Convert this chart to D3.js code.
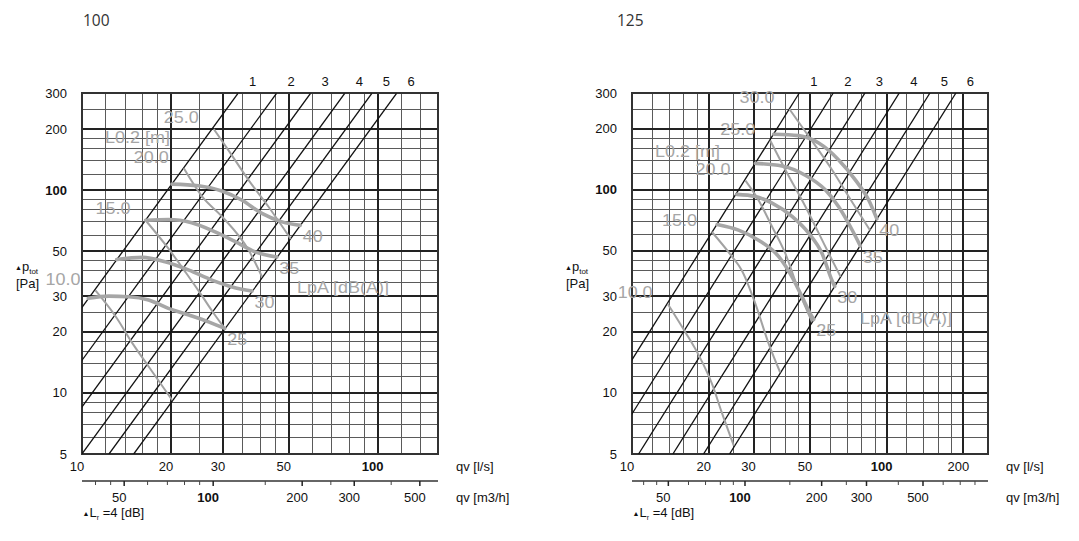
<!DOCTYPE html>
<html><head><meta charset="utf-8">
<script src="https://cdn.jsdelivr.net/npm/d3@7"></script>
<style>
body{margin:0;background:#fff;}
svg{display:block;font-family:"Liberation Sans",Arial,sans-serif;}
</style></head><body>
<svg id="chart" width="1079" height="541"></svg>
<script>
// ---------------- DATA ----------------
const panelTitles = ["100", "125"];
const yTickValues = [5, 10, 20, 30, 50, 100, 200, 300];
const yMinorValues = [6, 7, 8, 9, 12, 14, 16, 18, 25, 35, 40, 45, 60, 70, 80, 90, 120, 140, 160, 180, 250];
const xTickValues100 = [10, 20, 30, 50, 100];
const xMinorValues100 = [12, 14, 16, 18, 25, 35, 40, 45, 60, 70, 80, 90, 120, 140];
const xTickValues125 = [10, 20, 30, 50, 100, 200];
const xMinorValues125 = [12, 14, 16, 18, 25, 35, 40, 45, 60, 70, 80, 90, 120, 140, 160, 180];
const m3hTickValues = [50, 100, 200, 300, 500];
const m3hMinor100 = [40, 45, 60, 70, 80, 90, 150, 250, 400];
const m3hMinor125 = [40, 45, 60, 70, 80, 90, 150, 250, 400, 600, 700, 800];
const damperLabels = ["1", "2", "3", "4", "5", "6"];
// flow [l/s] at which each damper-position line reaches 300 Pa (lines follow dp ~ qv^2)
const damperQv300_100 = [33.7, 45.5, 59.3, 77.4, 95.6, 115.9];
const damperQv300_125 = [45.4, 61.7, 82.2, 112.1, 147.9, 187.1];

// throw length L0.2 [m] lines: [qv l/s, dp Pa]
const throwLabels100 = ["10.0", "15.0", "20.0", "25.0"];
const throw100_10 = [[11.1, 32], [13.0, 23.8], [14.8, 17.6], [16.8, 13.5], [20.2, 9.2]];
const throw100_15 = [[16.4, 71], [19.5, 52], [22.5, 39], [25.5, 30], [28, 24.5], [30.4, 20.8]];
const throw100_20 = [[22.1, 128], [25.5, 92.8], [29.8, 73.9], [36.6, 50.6], [40.6, 37.5]];
const throw100_25 = [[27.9, 200], [31.3, 157], [36.6, 112], [42.8, 82.5], [50.8, 57.5]];

const throwLabels125 = ["10.0", "15.0", "20.0", "25.0", "30.0"];
const throw125_10 = [[13.8, 27.5], [16.2, 19.9], [18.3, 15.3], [20.6, 11.1], [22.6, 7.9], [25.1, 5.5]];
const throw125_15 = [[20.6, 62], [24.7, 46.9], [27, 40.1], [30.5, 27.5], [34.4, 17.5], [38.2, 12.6]];
const throw125_20 = [[27.9, 111], [31.4, 89], [35.5, 65.8], [40, 48.6], [45.1, 32], [50.9, 22.4]];
const throw125_25 = [[34.9, 175], [40, 125.6], [47.9, 83], [54.1, 61.2], [61, 45.2], [66, 37.3]];
const throw125_30 = [[41.5, 250], [49.4, 183.6], [61, 125.6], [70.9, 92.8], [86, 63.3]];

// sound level LpA [dB(A)] curves
const lpaLabels = ["25", "30", "35", "40"];
const lpa100_25 = [[10.5, 29.3], [12.3, 30], [14.4, 29.8], [16.8, 28.7], [19.6, 26.1], [23, 24.2], [26.8, 22.4], [30.4, 20.8]];
const lpa100_30 = [[13.1, 45.5], [16, 46.6], [19.1, 44.3], [23, 40.3], [27.5, 36], [32.2, 33.3], [37.6, 31.8]];
const lpa100_35 = [[16.4, 71], [19.6, 71.6], [23.5, 69], [28.2, 62.2], [33, 55.7], [38.5, 49.6], [45.6, 46.8]];
const lpa100_40 = [[20.15, 107], [24.8, 105], [29.7, 99], [34.8, 89.1], [40.6, 76.7], [47.5, 69.7], [54.7, 67]];

const lpa125_25 = [[21.6, 67.5], [26.2, 63.3], [31.4, 56.5], [37.7, 46.9], [42.5, 37.3], [46.5, 29.8], [50.1, 24.6], [51.7, 23.0]];
const lpa125_30 = [[25.8, 95], [30.5, 92.8], [35.5, 86], [42.5, 74], [49.4, 61.2], [55.7, 48.7], [61, 35.8], [62.5, 33.5]];
const lpa125_35 = [[30.5, 135], [38.8, 131], [47.9, 118], [57.4, 100], [64.8, 82.5], [73.1, 63.6], [78.8, 53]];
const lpa125_40 = [[36, 188], [45.1, 185], [54.1, 170], [64.8, 140.4], [75.3, 112], [85, 89.1], [91.5, 72]];

const M3H_PER_LS = 3.6;

// ---------------- LAYOUT ----------------
const panels = [
  { title: panelTitles[0], titleX: 83, left: 82, right: 438, top: 93.3, bottom: 454, xDomain: [10, 160],
    xTicks: xTickValues100, xMinor: xMinorValues100, m3hMinor: m3hMinor100, damper: damperQv300_100,
    throws: [throw100_10, throw100_15, throw100_20, throw100_25], throwLabels: throwLabels100,
    lpa: [lpa100_25, lpa100_30, lpa100_35, lpa100_40],
    l02Pos: [137.5, 137.5], lpaPos: [343, 287.5] },
  { title: panelTitles[1], titleX: 617, left: 632, right: 988, top: 93, bottom: 454, xDomain: [10, 250],
    xTicks: xTickValues125, xMinor: xMinorValues125, m3hMinor: m3hMinor125, damper: damperQv300_125,
    throws: [throw125_10, throw125_15, throw125_20, throw125_25, throw125_30], throwLabels: throwLabels125,
    lpa: [lpa125_25, lpa125_30, lpa125_35, lpa125_40],
    l02Pos: [687.5, 151.5], lpaPos: [906, 318.5] }
];

const svg = d3.select("#chart");
const GRAY_TXT = "#a6a6a6";

function grayLabel(g, cx, cy, txt) {
  g.append("text").attr("transform", `translate(${cx},${cy}) scale(1.09,1)`)
    .attr("text-anchor", "middle").attr("dominant-baseline", "central")
    .attr("font-size", 16.5).attr("fill", GRAY_TXT).text(txt);
}

panels.forEach((P, pi) => {
  const x = d3.scaleLog().domain(P.xDomain).range([P.left, P.right]);
  const y = d3.scaleLog().domain([5, 300]).range([P.bottom, P.top]);
  const g = svg.append("g");
  const clipId = "clip" + pi;
  g.append("clipPath").attr("id", clipId).append("rect")
    .attr("x", P.left).attr("y", P.top).attr("width", P.right - P.left).attr("height", P.bottom - P.top);

  // title
  g.append("text").attr("x", P.titleX).attr("y", 26).attr("font-size", 15.5)
    .attr("font-family", "'Open Sans', sans-serif").attr("fill", "#333").text(P.title);

  // minor grid
  const grid = g.append("g").attr("shape-rendering", "crispEdges");
  grid.selectAll(".vm").data(P.xMinor).join("line")
    .attr("x1", d => x(d)).attr("x2", d => x(d)).attr("y1", P.top).attr("y2", P.bottom)
    .attr("stroke", "#5a5a5a").attr("stroke-width", 1);
  grid.selectAll(".hm").data(yMinorValues).join("line")
    .attr("y1", d => y(d)).attr("y2", d => y(d)).attr("x1", P.left).attr("x2", P.right)
    .attr("stroke", "#5a5a5a").attr("stroke-width", 1);
  // major grid
  grid.selectAll(".vM").data(P.xTicks).join("line")
    .attr("x1", d => x(d)).attr("x2", d => x(d)).attr("y1", P.top).attr("y2", P.bottom)
    .attr("stroke", "#222").attr("stroke-width", 2);
  grid.selectAll(".hM").data(yTickValues).join("line")
    .attr("y1", d => y(d)).attr("y2", d => y(d)).attr("x1", P.left).attr("x2", P.right)
    .attr("stroke", "#222").attr("stroke-width", 2);
  grid.append("rect").attr("x", P.left).attr("y", P.top).attr("width", P.right - P.left)
    .attr("height", P.bottom - P.top).attr("fill", "none").attr("stroke", "#333").attr("stroke-width", 2);

  const plot = g.append("g").attr("clip-path", `url(#${clipId})`);

  // damper lines dp = 300*(q/q300)^2
  P.damper.forEach((q300, i) => {
    const qLo = q300 * Math.sqrt(5 / 300);
    plot.append("line")
      .attr("x1", x(qLo)).attr("y1", y(5)).attr("x2", x(q300)).attr("y2", y(300))
      .attr("stroke", "#111").attr("stroke-width", 1.3);
    g.append("text").attr("x", x(q300) + 14.5).attr("y", P.top - 11.5)
      .attr("text-anchor", "middle").attr("dominant-baseline", "central")
      .attr("font-size", 13).attr("fill", "#111").text(damperLabels[i]);
  });

  const line = d3.line().x(d => x(d[0])).y(d => y(d[1])).curve(d3.curveMonotoneX);

  // throw lines
  P.throws.forEach((pts, i) => {
    plot.append("path").attr("d", line(pts)).attr("fill", "none")
      .attr("stroke", "#a2a2a2").attr("stroke-width", 2);
    grayLabel(g, x(pts[0][0]) - 32.5, y(pts[0][1]) - 11.5, P.throwLabels[i]);
  });
  // LpA curves
  P.lpa.forEach((pts, i) => {
    plot.append("path").attr("d", line(pts)).attr("fill", "none")
      .attr("stroke", "#a6a6a6").attr("stroke-width", 3.6).attr("stroke-linecap", "round");
    const last = pts[pts.length - 1];
    grayLabel(g, x(last[0]) + 12.5, y(last[1]) + 11, lpaLabels[i]);
  });
  grayLabel(g, P.l02Pos[0], P.l02Pos[1], "L0.2 [m]");
  grayLabel(g, P.lpaPos[0], P.lpaPos[1], "LpA [dB(A)]");

  // y tick labels
  g.selectAll(".yt").data(yTickValues).join("text")
    .attr("x", P.left - 15).attr("y", d => y(d)).attr("text-anchor", "end")
    .attr("dominant-baseline", "central").attr("font-size", 13).attr("fill", "#111")
    .attr("font-weight", d => d === 100 ? "bold" : "normal").text(d => d);
  // y axis title
  const yt = g.append("text").attr("x", P.left - 67).attr("y", 271).attr("font-size", 13).attr("fill", "#111");
  yt.append("tspan").attr("font-size", 7).attr("dy", -1).text("▲");
  yt.append("tspan").attr("dy", 1).text("p");
  yt.append("tspan").attr("font-size", 8).attr("dy", 3).text("tot");
  g.append("text").attr("x", P.left - 66).attr("y", 288).attr("font-size", 13).attr("fill", "#111").text("[Pa]");

  // x l/s labels
  g.selectAll(".xt").data(P.xTicks).join("text")
    .attr("x", d => x(d) - 5).attr("y", 466).attr("text-anchor", "middle")
    .attr("dominant-baseline", "central").attr("font-size", 13).attr("fill", "#111")
    .attr("font-weight", d => d === 100 ? "bold" : "normal").text(d => d);
  g.append("text").attr("x", P.left + 374).attr("y", 466).attr("dominant-baseline", "central")
    .attr("font-size", 13).attr("fill", "#111").text("qv [l/s]");

  // m3/h axis
  const xm = d3.scaleLog().domain(P.xDomain.map(v => v * M3H_PER_LS)).range([P.left, P.right]);
  g.append("line").attr("x1", P.left).attr("x2", P.right).attr("y1", 481).attr("y2", 481)
    .attr("stroke", "#333").attr("stroke-width", 1.5);
  g.selectAll(".mm").data(P.m3hMinor).join("line")
    .attr("x1", d => xm(d)).attr("x2", d => xm(d)).attr("y1", 481).attr("y2", 485)
    .attr("stroke", "#444").attr("stroke-width", 1);
  g.selectAll(".mM").data(m3hTickValues).join("line")
    .attr("x1", d => xm(d)).attr("x2", d => xm(d)).attr("y1", 481).attr("y2", 486)
    .attr("stroke", "#222").attr("stroke-width", 1.5);
  g.selectAll(".mt").data(m3hTickValues).join("text")
    .attr("x", d => xm(d) - 5).attr("y", 497.5).attr("text-anchor", "middle")
    .attr("dominant-baseline", "central").attr("font-size", 13).attr("fill", "#111")
    .attr("font-weight", d => d === 100 ? "bold" : "normal").text(d => d);
  g.append("text").attr("x", P.left + 374).attr("y", 497.5).attr("dominant-baseline", "central")
    .attr("font-size", 13).attr("fill", "#111").text("qv [m3/h]");

  const lr = g.append("text").attr("x", P.left + 0.5).attr("y", 517).attr("font-size", 13).attr("fill", "#111");
  lr.append("tspan").attr("font-size", 7).attr("dy", -1).text("▲");
  lr.append("tspan").attr("dy", 1).text("L");
  lr.append("tspan").attr("font-size", 7).attr("dy", 3).text("r");
  lr.append("tspan").attr("dy", -3).text(" =4 [dB]");
});
</script>
</body></html>
